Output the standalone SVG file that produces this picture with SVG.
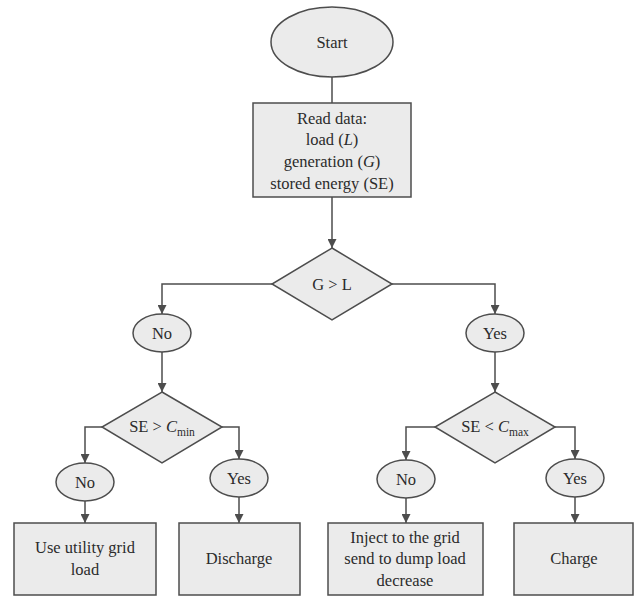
<svg xmlns="http://www.w3.org/2000/svg" width="635" height="597" viewBox="0 0 635 597">
  <style>
    .shape { fill: #ebebeb; stroke: #4d4d4d; stroke-width: 1.5; }
    .wire { fill: none; stroke: #4d4d4d; stroke-width: 1.5; }
    .arrow { fill: none; stroke: #4d4d4d; stroke-width: 1.5; marker-end: url(#head); }
    text { font-family: "Liberation Serif", "DejaVu Serif", serif; font-size: 16.5px; fill: #2b2b2b; text-anchor: middle; }
    .sub { font-size: 11.5px; }
  </style>
  <defs>
    <marker id="head" viewBox="0 0 10 10" refX="10" refY="5" markerWidth="9" markerHeight="9" markerUnits="userSpaceOnUse" orient="auto">
      <path d="M0,0 L10,5 L0,10 Z" fill="#4d4d4d"/>
    </marker>
  </defs>

  <g id="connectors">
    <path class="wire" d="M332,77 V103"/>
    <path class="arrow" d="M332,197 V248"/>
    <path class="arrow" d="M272,284 H162 V314"/>
    <path class="arrow" d="M392,284 H495 V314"/>
    <path class="arrow" d="M162,352 V392"/>
    <path class="arrow" d="M495,352 V392"/>
    <path class="arrow" d="M102,427 H85 V463"/>
    <path class="arrow" d="M222,427 H239 V459"/>
    <path class="arrow" d="M435,427 H406 V460"/>
    <path class="arrow" d="M555,427 H575 V459"/>
    <path class="arrow" d="M85,501 V523"/>
    <path class="arrow" d="M239,497 V523"/>
    <path class="arrow" d="M406,498 V523"/>
    <path class="arrow" d="M575,497 V523"/>
  </g>

  <g id="start">
    <ellipse class="shape" cx="332" cy="42" rx="61" ry="35"/>
    <text x="332" y="48">Start</text>
  </g>

  <g id="read-data">
    <rect class="shape" x="253" y="103" width="158" height="94"/>
    <text x="332" y="124">Read data:</text>
    <text x="332" y="145">load (<tspan font-style="italic">L</tspan>)</text>
    <text x="332" y="167">generation (<tspan font-style="italic">G</tspan>)</text>
    <text x="332" y="189">stored energy (SE)</text>
  </g>

  <g id="decision-g-l">
    <path class="shape" d="M332,248 L392,284 L332,320 L272,284 Z"/>
    <text x="332" y="290">G &gt; L</text>
  </g>

  <g id="no-1">
    <ellipse class="shape" cx="162" cy="333" rx="29" ry="19"/>
    <text x="162" y="339">No</text>
  </g>

  <g id="yes-1">
    <ellipse class="shape" cx="495" cy="333" rx="29" ry="19"/>
    <text x="495" y="339">Yes</text>
  </g>

  <g id="decision-cmin">
    <path class="shape" d="M162,392 L222,427 L162,463 L102,427 Z"/>
    <text x="162" y="432">SE &gt; <tspan font-style="italic">C</tspan><tspan class="sub" dy="4">min</tspan></text>
  </g>

  <g id="decision-cmax">
    <path class="shape" d="M495,392 L555,427 L495,463 L435,427 Z"/>
    <text x="495" y="432">SE &lt; <tspan font-style="italic">C</tspan><tspan class="sub" dy="4">max</tspan></text>
  </g>

  <g id="no-2">
    <ellipse class="shape" cx="85" cy="482" rx="29" ry="19"/>
    <text x="85" y="488">No</text>
  </g>

  <g id="yes-2">
    <ellipse class="shape" cx="239" cy="478" rx="29" ry="19"/>
    <text x="239" y="484">Yes</text>
  </g>

  <g id="no-3">
    <ellipse class="shape" cx="406" cy="479" rx="29" ry="19"/>
    <text x="406" y="485">No</text>
  </g>

  <g id="yes-3">
    <ellipse class="shape" cx="575" cy="478" rx="29" ry="19"/>
    <text x="575" y="484">Yes</text>
  </g>

  <g id="utility-grid">
    <rect class="shape" x="14" y="523" width="142" height="72"/>
    <text x="85" y="553">Use utility grid</text>
    <text x="85" y="575">load</text>
  </g>

  <g id="discharge">
    <rect class="shape" x="179" y="523" width="121" height="72"/>
    <text x="239" y="564">Discharge</text>
  </g>

  <g id="inject">
    <rect class="shape" x="328" y="523" width="155" height="72"/>
    <text x="405" y="543">Inject to the grid</text>
    <text x="405" y="564">send to dump load</text>
    <text x="405" y="586">decrease</text>
  </g>

  <g id="charge">
    <rect class="shape" x="514" y="523" width="119" height="72"/>
    <text x="574" y="564">Charge</text>
  </g>
</svg>
